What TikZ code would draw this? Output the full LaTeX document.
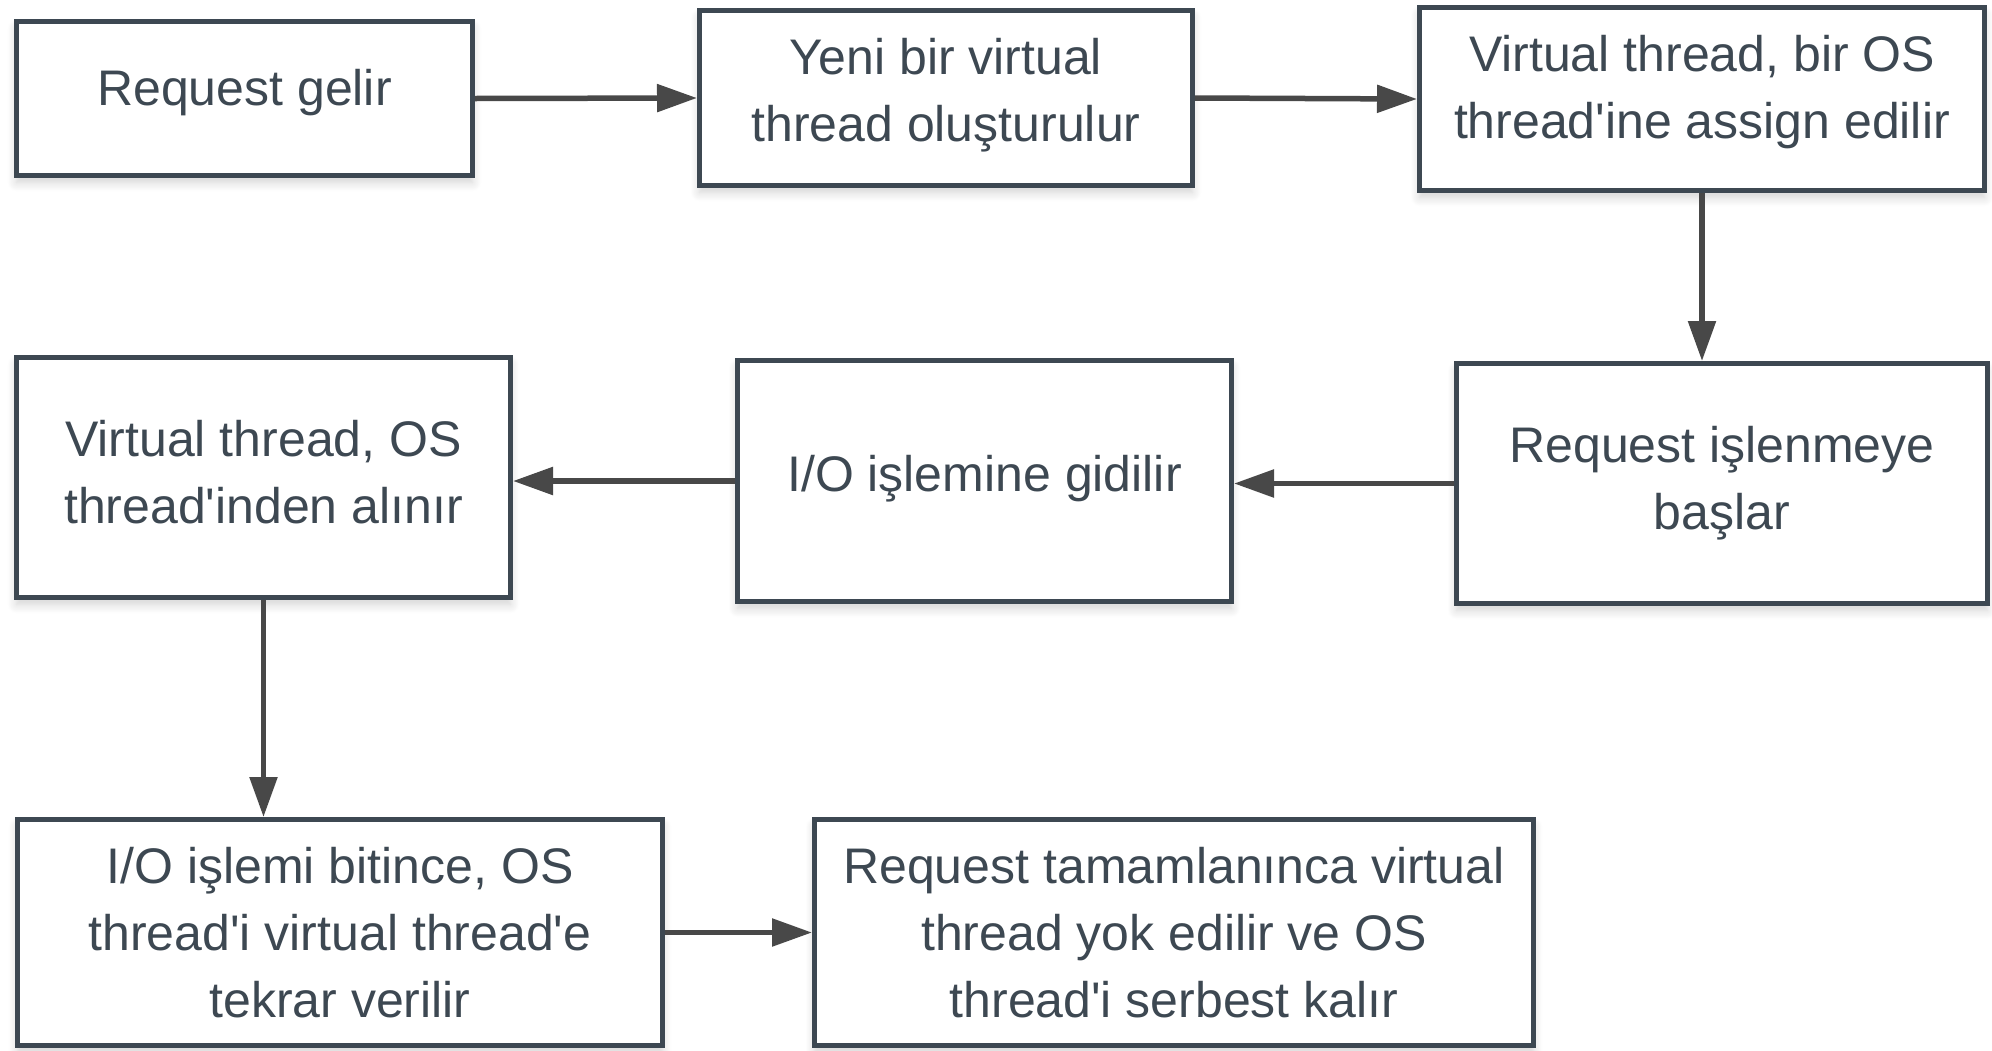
\documentclass[tikz,border=0pt]{standalone}
\usepackage{fontspec}
\newfontfamily\boxfont{Liberation Sans}
\usetikzlibrary{arrows.meta,calc,shadows.blur}

\definecolor{slate}{RGB}{61,72,82}
\definecolor{arrowgrey}{RGB}{72,72,72}

\tikzset{
  stepbox/.style={draw=slate, line width=5pt, fill=white, inner sep=0pt,
    blur shadow={shadow xshift=0pt, shadow yshift=-7pt,
      shadow blur radius=9pt, shadow blur steps=12, shadow opacity=18}},
  boxtext/.style={align=center, text=slate, inner sep=0pt,
    font=\boxfont\fontsize{50}{67}\selectfont},
  flow/.style={draw=arrowgrey, line width=5.5pt,
    -{Triangle[length=40pt,width=27pt]}}
}

\begin{document}
\begin{tikzpicture}[x=1pt,y=-1pt]
  \useasboundingbox (0,0) rectangle (1992,1050);

  % first row
  \node[stepbox, minimum width=456pt, minimum height=154pt] (gelir) at (244.5,98.5) {};
  \node[stepbox, minimum width=493pt, minimum height=175pt] (yeni) at (946,98) {};
  \node[stepbox, minimum width=565pt, minimum height=183pt] (assign) at (1702,99) {};

  % second row
  \node[stepbox, minimum width=531pt, minimum height=240pt] (isle) at (1722,483.5) {};
  \node[stepbox, minimum width=494pt, minimum height=241pt] (io) at (984.5,481) {};
  \node[stepbox, minimum width=494pt, minimum height=240pt] (alin) at (263.5,477.5) {};

  % third row
  \node[stepbox, minimum width=645pt, minimum height=226pt] (bitince) at (340,932.5) {};
  \node[stepbox, minimum width=719pt, minimum height=226pt] (bitis) at (1174,932.5) {};

  % box captions
  \node[boxtext] (gelir-t) at ($(gelir)+(0,-6)$) {Request gelir};
  \node[boxtext] (yeni-t) at ($(yeni)+(0,-3)$) {Yeni bir virtual\\thread oluşturulur};
  \node[boxtext] (assign-t) at ($(assign)+(0,-7)$) {Virtual thread, bir OS\\thread'ine assign edilir};
  \node[boxtext] (isle-t) at ($(isle)+(0,0)$) {Request işlenmeye\\başlar};
  \node[boxtext] (io-t) at ($(io)+(0,-2)$) {I/O işlemine gidilir};
  \node[boxtext] (alin-t) at ($(alin)+(0,-5)$) {Virtual thread, OS\\thread'inden alınır};
  \node[boxtext] (bitince-t) at ($(bitince)+(0,0)$) {I/O işlemi bitince, OS\\thread'i virtual thread'e\\tekrar verilir};
  \node[boxtext] (bitis-t) at ($(bitis)+(0,0)$) {Request tamamlanınca virtual\\thread yok edilir ve OS\\thread'i serbest kalır};

  % connectors
  \draw[flow] (gelir.east) -- (yeni.west);
  \draw[flow] (yeni.east) -- (assign.west);
  \draw[flow] (assign.south) -- (assign.south |- isle.north);
  \draw[flow] (isle.west) -- (isle.west -| io.east);
  \draw[flow] (io.west) -- (io.west -| alin.east);
  \draw[flow] (alin.south) -- (alin.south |- bitince.north);
  \draw[flow] (bitince.east) -- (bitince.east -| bitis.west);
\end{tikzpicture}
\end{document}
